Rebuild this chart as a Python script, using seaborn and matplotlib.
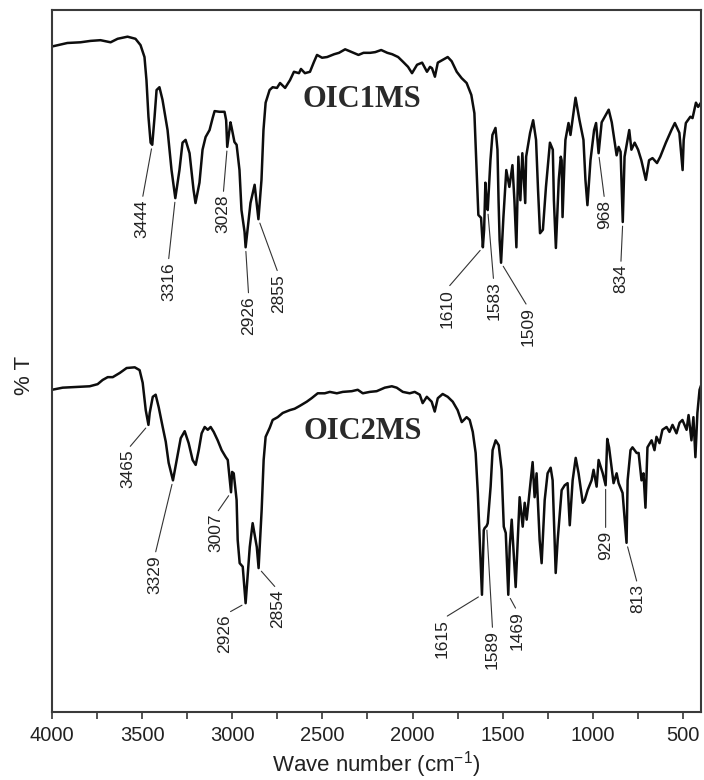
import numpy as np
import pandas as pd
import matplotlib
matplotlib.use("Agg")
import matplotlib.pyplot as plt
from matplotlib.ticker import FixedLocator
import seaborn as sns

# ---- FT-IR transmittance spectra (wavenumber in cm^-1, %T in arbitrary offset units) ----
wn_oic1 = [4000, 3915, 3842, 3786, 3731, 3675, 3636, 3581, 3537, 3509,
           3487, 3476, 3465, 3453, 3444, 3431, 3420, 3404, 3387, 3359,
           3337, 3316, 3293, 3276, 3259, 3237, 3215, 3204, 3182, 3165,
           3148, 3126, 3109, 3098, 3071, 3043, 3034, 3028, 3010, 3004,
           2988, 2976, 2960, 2949, 2932, 2926, 2915, 2899, 2876, 2865,
           2855, 2838, 2827, 2815, 2793, 2776, 2752, 2735, 2707, 2680,
           2658, 2630, 2619, 2597, 2569, 2547, 2530, 2502, 2474, 2435,
           2408, 2374, 2355, 2327, 2300, 2272, 2235, 2207, 2174, 2140,
           2113, 2080, 2052, 2025, 2003, 1975, 1947, 1920, 1903, 1892,
           1876, 1860, 1832, 1805, 1783, 1755, 1728, 1700, 1674, 1657,
           1646, 1635, 1620, 1610, 1603, 1596, 1589, 1583, 1568, 1557,
           1540, 1529, 1523, 1517, 1509, 1496, 1480, 1463, 1446, 1435,
           1424, 1413, 1402, 1391, 1375, 1370, 1348, 1331, 1315, 1304,
           1293, 1277, 1260, 1238, 1222, 1216, 1205, 1189, 1178, 1173,
           1168, 1157, 1152, 1135, 1124, 1096, 1074, 1052, 1041, 1030,
           1013, 993, 982, 968, 951, 934, 912, 895, 879, 868,
           857, 846, 834, 824, 798, 786, 768, 749, 731, 706,
           688, 669, 644, 626, 595, 564, 545, 520, 502, 496,
           484, 459, 447, 428, 416, 400]
t_oic1 = [94.8, 95.3, 95.4, 95.6, 95.7, 95.4, 95.9, 96.2, 95.9, 95.0,
          93.3, 90.0, 84.8, 81.1, 80.8, 84.8, 88.6, 89.0, 87.2, 82.9,
          77.2, 73.2, 77.2, 81.1, 81.5, 79.6, 74.4, 72.5, 75.4, 80.1,
          81.9, 82.9, 84.6, 85.6, 85.5, 85.5, 84.3, 80.5, 84.0, 83.3,
          81.2, 80.8, 77.2, 71.5, 68.4, 66.2, 68.7, 72.5, 75.1, 72.5,
          70.2, 75.8, 82.9, 86.8, 88.6, 89.0, 88.9, 89.6, 88.9, 90.0,
          91.2, 91.0, 91.6, 91.0, 91.2, 92.6, 93.6, 93.2, 93.3, 93.7,
          93.9, 94.4, 94.2, 93.9, 93.6, 93.9, 93.9, 94.0, 94.3, 93.9,
          93.7, 93.3, 92.6, 91.9, 91.0, 92.2, 92.5, 91.2, 91.9, 91.7,
          90.5, 92.5, 92.9, 93.3, 92.7, 91.2, 90.3, 89.6, 87.9, 85.3,
          78.2, 70.8, 70.4, 66.2, 68.7, 75.4, 72.5, 71.5, 78.6, 82.2,
          83.2, 80.1, 72.9, 67.2, 64.0, 70.5, 77.2, 74.8, 77.9, 72.9,
          66.2, 79.1, 72.9, 79.6, 72.5, 79.1, 82.5, 84.3, 81.5, 74.4,
          68.2, 68.7, 74.8, 81.1, 80.1, 72.9, 66.1, 75.8, 79.1, 78.6,
          70.5, 78.6, 81.5, 83.9, 82.2, 87.5, 84.3, 81.5, 75.8, 72.2,
          78.6, 82.9, 83.9, 79.6, 84.0, 84.8, 85.8, 84.0, 81.2, 79.3,
          80.5, 79.8, 69.8, 79.1, 82.9, 80.1, 81.1, 80.1, 78.6, 75.8,
          78.6, 78.9, 78.2, 79.1, 81.1, 82.9, 83.9, 82.5, 77.2, 81.5,
          83.9, 84.8, 84.6, 86.8, 86.2, 86.8]

wn_oic2 = [4000, 3941, 3863, 3791, 3747, 3719, 3691, 3663, 3624, 3586,
           3541, 3514, 3497, 3480, 3465, 3458, 3441, 3425, 3408, 3386,
           3369, 3353, 3329, 3308, 3286, 3264, 3242, 3220, 3203, 3186,
           3170, 3153, 3136, 3120, 3103, 3081, 3059, 3036, 3025, 3007,
           3001, 2992, 2976, 2970, 2959, 2942, 2926, 2903, 2887, 2864,
           2854, 2837, 2826, 2815, 2792, 2776, 2748, 2720, 2681, 2654,
           2626, 2587, 2560, 2526, 2487, 2459, 2420, 2387, 2337, 2304,
           2276, 2237, 2199, 2154, 2115, 2088, 2054, 2016, 1988, 1960,
           1944, 1921, 1894, 1877, 1860, 1833, 1805, 1777, 1750, 1727,
           1700, 1683, 1666, 1650, 1638, 1627, 1615, 1605, 1600, 1589,
           1583, 1567, 1556, 1539, 1522, 1506, 1494, 1483, 1469, 1461,
           1450, 1428, 1406, 1389, 1378, 1367, 1350, 1334, 1323, 1312,
           1295, 1284, 1267, 1251, 1234, 1223, 1206, 1195, 1173, 1156,
           1140, 1128, 1112, 1095, 1079, 1056, 1045, 1029, 1007, 996,
           979, 968, 945, 929, 920, 910, 896, 885, 868, 857,
           835, 813, 807, 791, 780, 757, 746, 730, 719, 708,
           697, 674, 658, 647, 630, 614, 591, 575, 558, 536,
           519, 503, 480, 469, 453, 442, 431, 420, 408, 400]
t_oic2 = [45.9, 46.2, 46.3, 46.4, 46.7, 47.3, 47.7, 47.7, 48.3, 49.0,
          49.1, 48.7, 46.9, 43.0, 40.9, 42.6, 44.9, 45.2, 43.4, 40.6,
          38.5, 35.5, 33.0, 35.9, 39.0, 40.0, 38.3, 35.9, 35.2, 37.3,
          39.7, 40.6, 40.2, 40.6, 39.9, 38.7, 37.3, 36.3, 35.9, 31.3,
          34.2, 34.0, 30.2, 24.5, 21.2, 20.7, 15.5, 23.5, 26.9, 23.5,
          20.5, 28.8, 35.9, 39.2, 40.5, 41.6, 42.0, 42.6, 43.0, 43.2,
          43.6, 44.2, 44.7, 45.4, 45.4, 45.6, 45.4, 45.6, 45.7, 45.9,
          45.4, 45.6, 45.7, 46.2, 46.4, 46.2, 45.6, 45.4, 45.6, 45.2,
          44.0, 44.9, 44.2, 42.8, 44.7, 45.3, 44.9, 44.2, 43.0, 41.3,
          42.0, 41.6, 39.9, 36.9, 31.2, 24.1, 16.7, 25.9, 26.2, 26.5,
          26.9, 32.1, 37.3, 38.7, 38.0, 34.5, 26.4, 25.5, 16.7, 23.5,
          27.4, 17.8, 30.6, 26.4, 29.8, 27.4, 31.6, 35.6, 30.6, 34.0,
          24.5, 21.2, 30.2, 34.0, 34.8, 33.0, 19.8, 24.5, 31.6, 32.3,
          32.6, 26.6, 33.0, 36.2, 34.0, 29.8, 30.2, 31.6, 33.0, 34.5,
          32.1, 35.9, 34.0, 32.3, 38.9, 37.7, 34.9, 32.6, 34.0, 32.6,
          31.2, 24.1, 33.0, 37.3, 37.7, 36.9, 36.9, 33.0, 34.0, 29.1,
          37.7, 38.7, 37.3, 39.2, 38.3, 40.2, 40.6, 39.9, 40.9, 39.7,
          41.2, 41.6, 40.2, 42.3, 38.7, 42.0, 36.3, 42.6, 45.9, 46.5]

sample_names = ["OIC1MS", "OIC2MS"]

# labelled absorption bands
peaks_oic1 = [3444, 3316, 3028, 2926, 2855, 1610, 1583, 1509, 968, 834]
peaks_oic2 = [3465, 3329, 3007, 2926, 2854, 1615, 1589, 1469, 929, 813]

x_major = [4000, 3500, 3000, 2500, 2000, 1500, 1000, 500]
x_minor = [3750, 3250, 2750, 2250, 1750, 1250, 750]

# label placement (offset of the label centre from the band, in points)
offsets_oic1 = [(-7.2, -53.3), (-5.0, -59.8), (-2.9, -48.2), (2.2, -49.0),
                (14.4, -53.3), (-25.9, -43.9), (4.3, -65.5), (19.4, -46.1),
                (4.3, -43.9), (-1.4, -41.0)]
offsets_oic2 = [(-15.1, -31.7), (-13.0, -67.7), (-10.8, -29.5), (-15.1, -22.3),
                (13.7, -29.5), (-28.8, -31.7), (4.3, -89.3), (6.5, -25.9),
                (0.0, -43.2), (7.9, -40.3)]

assert len(wn_oic1) == len(t_oic1) and len(wn_oic2) == len(t_oic2)

df = pd.concat([
    pd.DataFrame({"wavenumber": wn_oic1, "T": t_oic1, "sample": sample_names[0]}),
    pd.DataFrame({"wavenumber": wn_oic2, "T": t_oic2, "sample": sample_names[1]}),
], ignore_index=True)

sns.set_theme(style="ticks")
plt.rcParams["font.family"] = ["Liberation Sans", "DejaVu Sans"]
plt.rcParams["mathtext.fontset"] = "custom"
plt.rcParams["mathtext.rm"] = "Liberation Sans"
plt.rcParams["mathtext.it"] = "Liberation Sans:italic"
plt.rcParams["mathtext.bf"] = "Liberation Sans:bold"

fig = plt.figure(figsize=(7.04, 7.80), dpi=100)
ax = fig.add_axes([52 / 704, 1 - 712 / 780, 649 / 704, 702 / 780])

sns.lineplot(data=df, x="wavenumber", y="T", hue="sample",
             palette=["#0d0d0d", "#0d0d0d"], estimator=None, legend=False,
             linewidth=1.8, ax=ax)

ax.set_xlim(4000, 400)
ax.set_ylim(0, 100)
ax.set_yticks([])
ax.xaxis.set_major_locator(FixedLocator(x_major))
ax.xaxis.set_minor_locator(FixedLocator(x_minor))
ax.tick_params(axis="x", which="both", direction="out", length=5, width=1.2,
               colors="#333333", labelcolor="#222222", labelsize=14.5, pad=5)

for side in ["left", "right", "top", "bottom"]:
    ax.spines[side].set_visible(True)
    ax.spines[side].set_color("#3a3a3a")
    ax.spines[side].set_linewidth(1.5)

ax.set_xlabel(r"Wave number (cm$^{\mathregular{-1}}$)", fontsize=16,
              color="#222222", labelpad=3)
ax.set_ylabel("% T", fontsize=16, color="#222222")
ax.yaxis.label.set(ha="center", va="center")
ax.yaxis.set_label_coords(-0.042, 0.479)

# sample names
ax.text(0.478, 0.873, sample_names[0], transform=ax.transAxes, ha="center",
        va="center", fontsize=22, fontweight="bold", color="#2a2a2a",
        family=["Liberation Serif", "DejaVu Serif"])
ax.text(0.478, 0.399, sample_names[1], transform=ax.transAxes, ha="center",
        va="center", fontsize=22, fontweight="bold", color="#2a2a2a",
        family=["Liberation Serif", "DejaVu Serif"])


def label_bands(wn, t, peaks, offsets):
    xs = np.array(wn[::-1], dtype=float)
    ys = np.array(t[::-1], dtype=float)
    for p, (dx, dy) in zip(peaks, offsets):
        y = float(np.interp(p, xs, ys))
        ax.annotate(str(p), xy=(p, y), xytext=(dx, dy),
                    textcoords="offset points", rotation=90,
                    ha="center", va="center", fontsize=12.5, color="#222222",
                    arrowprops=dict(arrowstyle="-", color="#333333", lw=0.8,
                                    shrinkA=0, shrinkB=3, relpos=(0.5, 1.0)))


label_bands(wn_oic1, t_oic1, peaks_oic1, offsets_oic1)
label_bands(wn_oic2, t_oic2, peaks_oic2, offsets_oic2)

fig.savefig("out.png", dpi=100, facecolor="white")
